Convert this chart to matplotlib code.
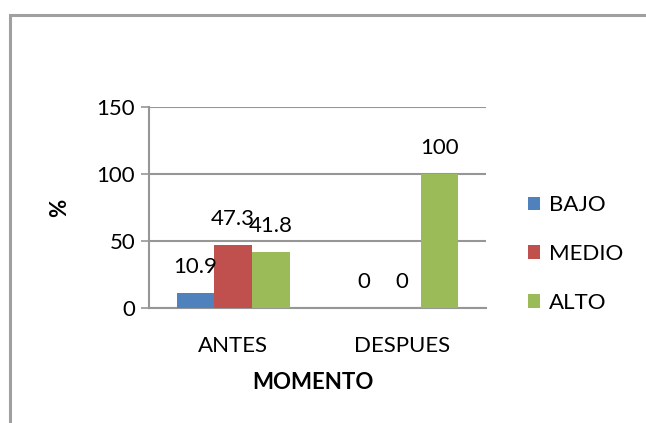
import matplotlib
matplotlib.use("Agg")
import matplotlib.pyplot as plt
from matplotlib.patches import Rectangle
import numpy as np

categories = ["ANTES", "DESPUES"]
series_names = ["BAJO", "MEDIO", "ALTO"]
bajo = [10.9, 0]
medio = [47.3, 0]
alto = [41.8, 100]
label_bajo = ["10.9", "0"]
label_medio = ["47.3", "0"]
label_alto = ["41.8", "100"]
yticks = [0, 50, 100, 150]

colors = ["#4F81BD", "#C0504D", "#9BBB59"]
gray = "#969696"
fs = 16

plt.rcParams['font.family'] = ['Lato', 'DejaVu Sans']

W, H = 646, 423
fig = plt.figure(figsize=(W / 100, H / 100), dpi=100)
ax = fig.add_axes([149 / W, 1 - 308 / H, (486 - 149) / W, (308 - 107) / H])

x = np.arange(len(categories))
width = 0.224
series = [bajo, medio, alto]
labels = [label_bajo, label_medio, label_alto]
bars = []
for i, (vals, labs) in enumerate(zip(series, labels)):
    b = ax.bar(x + (i - 1) * width, vals, width, color=colors[i], label=series_names[i], zorder=3)
    bars.append(b)
    for rect, lab in zip(b, labs):
        ax.annotate(lab, (rect.get_x() + rect.get_width() / 2, rect.get_height()),
                    xytext=(0, 26), textcoords="offset pixels",
                    ha="center", va="center", fontsize=fs, color="black", zorder=4)

ax.set_xlim(-0.5, 1.5)
ax.set_ylim(0, 150)
ax.set_yticks(yticks)
ax.set_yticklabels([str(t) for t in yticks], fontsize=fs)
ax.set_xticks(x)
ax.set_xticklabels(categories, fontsize=fs)
ax.tick_params(axis="x", length=0, pad=20)
ax.tick_params(axis="y", length=6, width=1.2, color=gray, pad=4, direction="out")
ax.yaxis.grid(True, color=gray, linewidth=1.5, zorder=0)
ax.set_axisbelow(True)
for s in ["top", "right"]:
    ax.spines[s].set_visible(False)
ax.spines["left"].set_color(gray)
ax.spines["left"].set_linewidth(1.5)
ax.spines["bottom"].set_color(gray)
ax.spines["bottom"].set_linewidth(1.5)

ax.set_xlabel("MOMENTO", fontsize=fs, fontweight="bold")
ax.xaxis.set_label_coords(313 / W, 1 - 382 / H, transform=fig.transFigure)
ax.xaxis.label.set_va("center")
ax.set_ylabel("%", fontsize=fs, fontweight="bold")
ax.yaxis.set_label_coords(60 / W, 1 - 208 / H, transform=fig.transFigure)
ax.yaxis.label.set_va("center")

leg = ax.legend(handles=bars, labels=series_names, loc="center left",
                bbox_to_anchor=(528 / W, 1 - 254 / H), bbox_transform=fig.transFigure,
                frameon=False, fontsize=fs, handlelength=0.55, handleheight=0.55,
                handletextpad=0.4, labelspacing=1.3, borderaxespad=0, borderpad=0)

fig.patches.append(Rectangle((10 / W, -0.1), 1.2, 1.1 - 15 / H, transform=fig.transFigure,
                             fill=False, edgecolor="#A0A0A0", linewidth=2.2))

fig.savefig("out.png", dpi=100)
